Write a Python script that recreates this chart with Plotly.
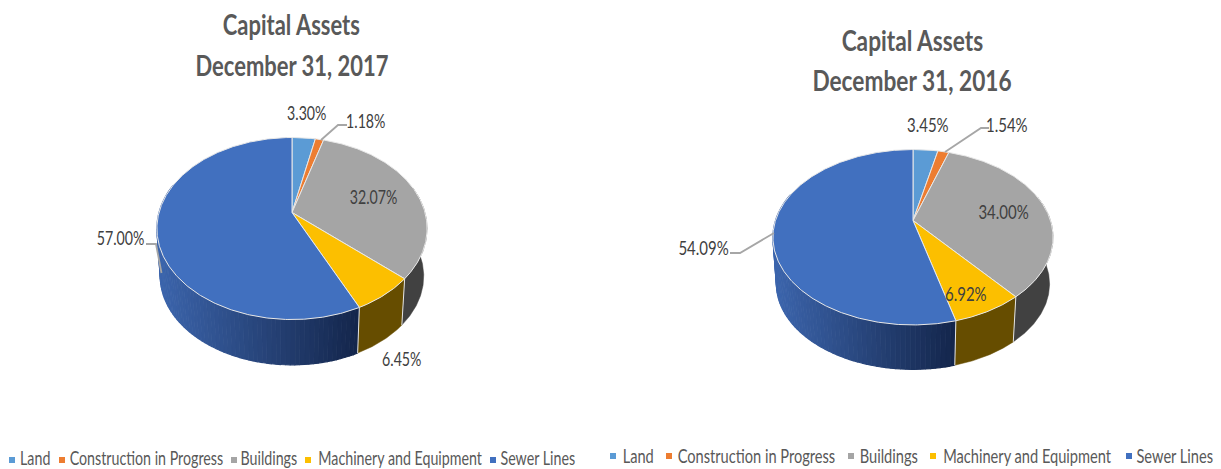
import math
import plotly.graph_objects as go

categories = ["Land", "Construction in Progress", "Buildings", "Machinery and Equipment", "Sewer Lines"]
values_2017 = [3.30, 1.18, 32.07, 6.45, 57.00]
values_2016 = [3.45, 1.54, 34.00, 6.92, 54.09]
labels_2017 = ["3.30%", "1.18%", "32.07%", "6.45%", "57.00%"]
labels_2016 = ["3.45%", "1.54%", "34.00%", "6.92%", "54.09%"]
title_main = "Capital Assets"
title_2017 = "December 31, 2017"
title_2016 = "December 31, 2016"

top_colors = ["#5b9bd5", "#ed7d31", "#a5a5a5", "#fcbf00", "#4170bf"]
wall_colors = ["#2f5f8f", "#8c4a1c", "#414141", "#664d00", None]
wall_blue_left = (60, 101, 172)
wall_blue_right = (20, 38, 76)

FONT = "Lato, Open Sans, sans-serif"
W, H = 1221, 469
fig = go.Figure()


def project(theta, g, depth=0.0):
    X, Z = math.sin(theta), math.cos(theta)
    w = 1 + g["k"] * Z
    s = 1 - 0.025 * depth
    return (g["cx"] + s * g["R"] * X / w, g["cy"] - s * g["B"] * Z / w + depth * g["d"])


def arc(a0, a1, g, depth=0.0, step=0.01):
    n = max(2, int(abs(a1 - a0) / step))
    return [project(a0 + (a1 - a0) * i / n, g, depth) for i in range(n + 1)]


def poly(points, fill, line=None, lw=0.0):
    fig.add_trace(go.Scatter(
        x=[p[0] for p in points], y=[p[1] for p in points], mode="lines", fill="toself",
        fillcolor=fill, line=dict(color=line or fill, width=lw), hoverinfo="skip", showlegend=False))


def polyline(points, color="#a6a6a6", lw=1.8):
    fig.add_trace(go.Scatter(
        x=[p[0] for p in points], y=[p[1] for p in points], mode="lines",
        line=dict(color=color, width=lw), hoverinfo="skip", showlegend=False))


def text(x, y, s, size, color):
    fig.add_annotation(x=x, y=y, text=s, showarrow=False, xref="x", yref="y", xanchor="center",
                       font=dict(family=FONT, size=size, color=color))


def draw_pie(values, texts, title, g):
    total = sum(values)
    edges = [0.0]
    for v in values:
        edges.append(edges[-1] + v / total * 2 * math.pi)
    # walls
    for i in range(len(values)):
        a0, a1 = edges[i], edges[i + 1]
        if wall_colors[i] is not None:
            start = a0
            while start < a1 and math.cos(start) >= 0.3:
                start += 0.01
            if start < a1:
                poly(arc(start, a1, g) + arc(a1, start, g, 1.0), wall_colors[i], wall_colors[i], 0.5)
            continue
        a = a0
        step = 0.03
        xl = g["cx"] - g["R"]
        xr = project(a0, g)[0]
        while a < a1 and a < 1.6 * math.pi:
            b = min(a + step, a1)
            t = max(0.0, min(1.0, (project(a, g)[0] - xl) / (xr - xl)))
            c = tuple(round(wall_blue_left[j] + (wall_blue_right[j] - wall_blue_left[j]) * t) for j in range(3))
            col = "rgb(%d,%d,%d)" % c
            poly(arc(a, b, g) + arc(b, a, g, 1.0), col, col, 1.2)
            a = b
    # seams on the wall
    for e in edges[3:5]:
        polyline([project(e, g), project(e, g, 1.0)], "#e4e4e4", 1)
    # top face
    for i in range(len(values)):
        pts = [(g["cx"], g["cy"])] + arc(edges[i], edges[i + 1], g) + [(g["cx"], g["cy"])]
        poly(pts, top_colors[i], "#e8e8e8", 1)
    for seg in g["leaders"]:
        polyline(seg)
    for t, (x, y) in zip(texts, g["label_pos"]):
        text(x, y, t, 20, "#404040")
    text(g["title_x"], g["title_y"][0], "<b>" + title_main + "</b>", 28, "#595959")
    text(g["title_x"], g["title_y"][1], "<b>" + title + "</b>", 28, "#595959")
    for c, name, mx, tx in zip(top_colors, categories, g["legend_marker_x"], g["legend_text_x"]):
        fig.add_trace(go.Scatter(x=[mx], y=[g["legend_y"]], mode="markers",
                                 marker=dict(symbol="square", size=6, color=c, line=dict(width=0)),
                                 hoverinfo="skip", showlegend=False))
        text(tx, g["legend_text_y"], name, 19, "#595959")


left = dict(
    cx=292, cy=212.5, k=0.176, R=133, B=88.2, d=48,
    title_x=291.5, title_y=(24, 65),
    label_pos=[(307, 112), (366, 120), (373, 196), (402, 358), (120, 237)],
    leaders=[[(321, 140), (338, 125), (347, 125)], [(146, 244), (156, 244), (161.5, 273)]],
    legend_y=460, legend_text_y=457, legend_marker_x=[12, 62, 234, 308, 493], legend_text_x=[35, 146, 269, 399.5, 538],
)
right = dict(
    cx=913, cy=220.5, k=0.191, R=137.5, B=84.5, d=47,
    title_x=912, title_y=(40, 80),
    label_pos=[(928, 124), (1007, 124), (1003, 211), (966, 293), (703.5, 247)],
    leaders=[[(945, 152), (981, 128), (989, 128)], [(730, 253), (740, 253), (774, 233)]],
    legend_y=456, legend_text_y=455, legend_marker_x=[613, 669, 851, 933, 1129], legend_text_x=[637.5, 756, 888.5, 1026.5, 1174.5],
)

draw_pie(values_2017, labels_2017, title_2017, left)
draw_pie(values_2016, labels_2016, title_2016, right)

fig.update_layout(
    width=W, height=H, autosize=False, margin=dict(l=0, r=0, t=0, b=0),
    paper_bgcolor="white", plot_bgcolor="white", showlegend=False,
    xaxis=dict(range=[0, W], visible=False, fixedrange=True),
    yaxis=dict(range=[H, 0], visible=False, fixedrange=True),
)

# The reference text is a tall, condensed face: squeeze the real text horizontally.
post = """
document.body.style.margin = '0';
document.fonts.ready.then(function () {
  document.querySelectorAll('.annotation').forEach(function (a) {
    var t = a.querySelector('.annotation-text');
    if (!t) return;
    var size = parseFloat(t.style.fontSize);
    var right = t.getBoundingClientRect().left > 605;
    var f = size >= 27 ? (right ? 0.81 : 0.785) : size >= 20 ? (right ? 0.75 : 0.71) : (right ? 0.77 : 0.75);
    var x = parseFloat(t.getAttribute('x')) || 0;
    t.setAttribute('transform', 'translate(' + x + ' 0) scale(' + f + ' 1) translate(' + (-x) + ' 0)');
    var r = a.querySelector('rect.bg');
    if (r) {
      var w = parseFloat(r.getAttribute('width'));
      var rx = parseFloat(r.getAttribute('x')) || 0;
      r.setAttribute('x', (rx + w * (1 - f) / 2).toFixed(1));
      r.setAttribute('width', (w * f).toFixed(1));
    }
  });
});
"""
fig.write_html("out.html", config={"displayModeBar": False}, post_script=post)
